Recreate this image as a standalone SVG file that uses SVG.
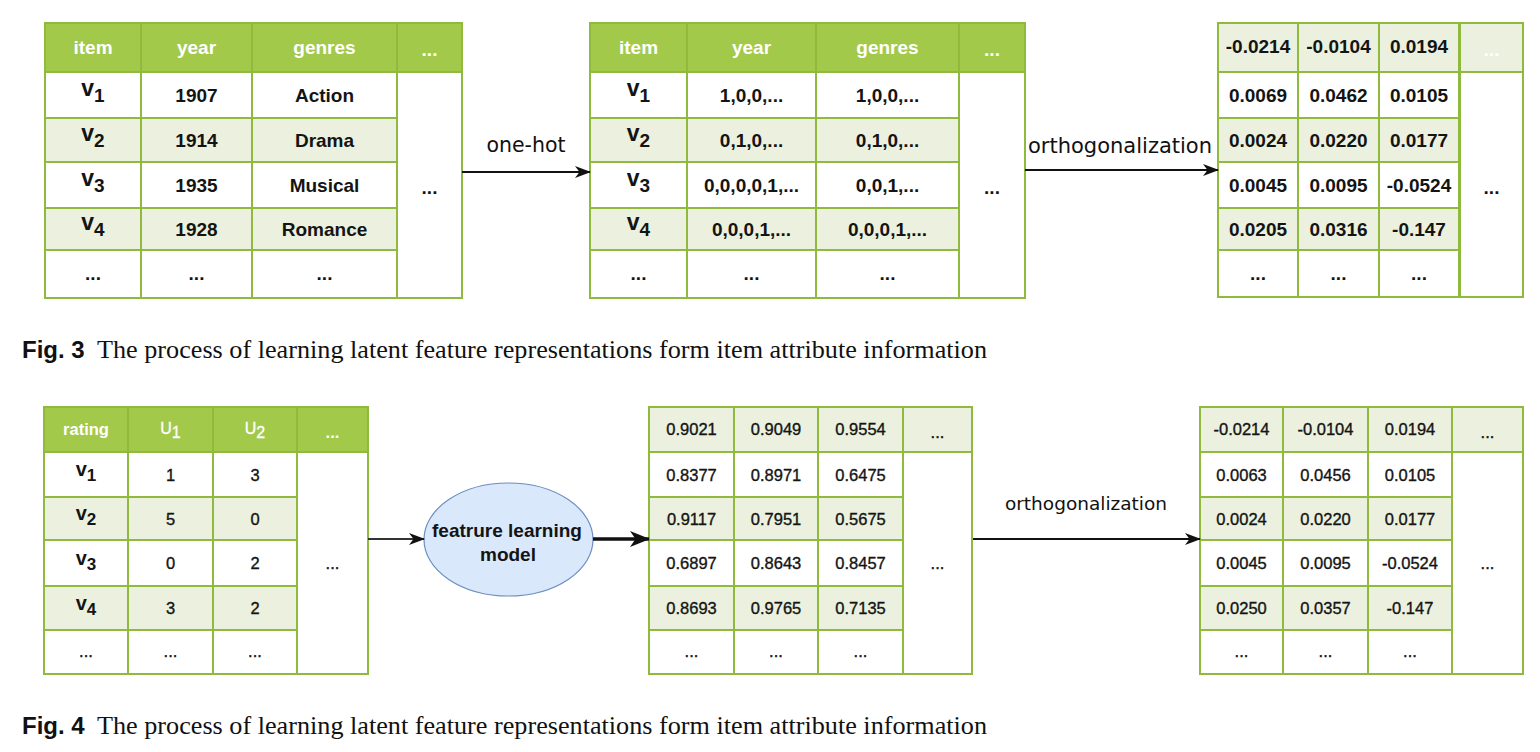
<svg xmlns="http://www.w3.org/2000/svg" width="1540" height="752" viewBox="0 0 1540 752">
  <style>
    .hd { fill: #A3C94B; stroke: #8FBA3E; stroke-width: 2; }
    .lt { fill: #EBF1DE; stroke: #8FBA3E; stroke-width: 2; }
    .wt { fill: #FFFFFF; stroke: #8FBA3E; stroke-width: 2; }
    .th { font-family: "Liberation Sans", Arial, sans-serif; font-weight: bold; font-size: 19px; fill: #FFFFFF; text-anchor: middle; }
    .tb { font-family: "Liberation Sans", Arial, sans-serif; font-weight: bold; font-size: 19px; fill: #141414; text-anchor: middle; }
    .bh { font-family: "Liberation Sans", Arial, sans-serif; font-weight: bold; font-size: 16.5px; fill: #FFFFFF; text-anchor: middle; }
    .bu { font-family: "Liberation Sans", Arial, sans-serif; font-size: 16px; fill: #FFFFFF; stroke: #FFFFFF; stroke-width: 0.3; text-anchor: middle; }
    .bb { font-family: "Liberation Sans", Arial, sans-serif; font-size: 16.5px; fill: #141414; stroke: #141414; stroke-width: 0.35; text-anchor: middle; }
    .bv { font-family: "Liberation Sans", Arial, sans-serif; font-weight: bold; font-size: 17px; fill: #141414; text-anchor: middle; }
    .big { font-size: 23px; }
    .bigb { font-size: 20px; }
    .lbl { font-family: "DejaVu Sans", sans-serif; fill: #111111; text-anchor: middle; }
    .edge { fill: none; stroke: #111111; stroke-width: 2; }
    .edge-soft { fill: none; stroke: #333333; stroke-width: 2; }
    .edge-thick { fill: none; stroke: #111111; stroke-width: 3.5; }
    .cap-fig { font-family: "Liberation Sans", Arial, sans-serif; font-weight: bold; font-size: 24px; fill: #111111; }
    .cap-txt { font-family: "Liberation Serif", "Times New Roman", serif; font-size: 26px; fill: #111111; }
  </style>
  <defs>
    <marker id="arrow" viewBox="0 0 16 12" markerWidth="16" markerHeight="12" refX="15" refY="6" orient="auto" markerUnits="userSpaceOnUse">
      <path d="M0,0 L16,6 L0,12 L4.5,6 z" fill="#111111"/>
    </marker>
    <marker id="arrow-big" viewBox="0 0 20 16" markerWidth="20" markerHeight="16" refX="19" refY="8" orient="auto" markerUnits="userSpaceOnUse">
      <path d="M0,0 L20,8 L0,16 L5.5,8 z" fill="#111111"/>
    </marker>
  </defs>

  <rect width="1540" height="752" fill="#FFFFFF"/>

  <!-- Item attribute table -->
  <g id="t-attr">
    <rect class="hd" x="45" y="23" width="96" height="49"/>
    <rect class="hd" x="141" y="23" width="111" height="49"/>
    <rect class="hd" x="252" y="23" width="145" height="49"/>
    <rect class="hd" x="397" y="23" width="65" height="49"/>
    <rect class="wt" x="45" y="72" width="96" height="46"/><rect class="wt" x="141" y="72" width="111" height="46"/><rect class="wt" x="252" y="72" width="145" height="46"/>
    <rect class="lt" x="45" y="118" width="96" height="44"/><rect class="lt" x="141" y="118" width="111" height="44"/><rect class="lt" x="252" y="118" width="145" height="44"/>
    <rect class="wt" x="45" y="162" width="96" height="46"/><rect class="wt" x="141" y="162" width="111" height="46"/><rect class="wt" x="252" y="162" width="145" height="46"/>
    <rect class="lt" x="45" y="208" width="96" height="42"/><rect class="lt" x="141" y="208" width="111" height="42"/><rect class="lt" x="252" y="208" width="145" height="42"/>
    <rect class="wt" x="45" y="250" width="96" height="48"/><rect class="wt" x="141" y="250" width="111" height="48"/><rect class="wt" x="252" y="250" width="145" height="48"/>
    <rect class="wt" x="397" y="72" width="65" height="226"/>
    <text class="th" x="93" y="54">item</text>
    <text class="th" x="196.5" y="54">year</text>
    <text class="th" x="324.5" y="54">genres</text>
    <text class="th" x="429.5" y="56">...</text>
    <text class="tb" x="93" y="96"><tspan class="big">v</tspan><tspan dy="6">1</tspan></text>
    <text class="tb" x="93" y="141"><tspan class="big">v</tspan><tspan dy="6">2</tspan></text>
    <text class="tb" x="93" y="186"><tspan class="big">v</tspan><tspan dy="6">3</tspan></text>
    <text class="tb" x="93" y="230"><tspan class="big">v</tspan><tspan dy="6">4</tspan></text>
    <text class="tb" x="93" y="280">...</text>
    <text class="tb" x="196.5" y="102">1907</text>
    <text class="tb" x="196.5" y="147">1914</text>
    <text class="tb" x="196.5" y="192">1935</text>
    <text class="tb" x="196.5" y="236">1928</text>
    <text class="tb" x="196.5" y="280">...</text>
    <text class="tb" x="324.5" y="102">Action</text>
    <text class="tb" x="324.5" y="147">Drama</text>
    <text class="tb" x="324.5" y="192">Musical</text>
    <text class="tb" x="324.5" y="236">Romance</text>
    <text class="tb" x="324.5" y="280">...</text>
    <text class="tb" x="429.5" y="194">...</text>
  </g>

  <!-- One-hot encoded table -->
  <g id="t-onehot">
    <rect class="hd" x="590" y="23" width="97" height="49"/>
    <rect class="hd" x="687" y="23" width="129" height="49"/>
    <rect class="hd" x="816" y="23" width="143" height="49"/>
    <rect class="hd" x="959" y="23" width="66" height="49"/>
    <rect class="wt" x="590" y="72" width="97" height="46"/><rect class="wt" x="687" y="72" width="129" height="46"/><rect class="wt" x="816" y="72" width="143" height="46"/>
    <rect class="lt" x="590" y="118" width="97" height="44"/><rect class="lt" x="687" y="118" width="129" height="44"/><rect class="lt" x="816" y="118" width="143" height="44"/>
    <rect class="wt" x="590" y="162" width="97" height="46"/><rect class="wt" x="687" y="162" width="129" height="46"/><rect class="wt" x="816" y="162" width="143" height="46"/>
    <rect class="lt" x="590" y="208" width="97" height="42"/><rect class="lt" x="687" y="208" width="129" height="42"/><rect class="lt" x="816" y="208" width="143" height="42"/>
    <rect class="wt" x="590" y="250" width="97" height="48"/><rect class="wt" x="687" y="250" width="129" height="48"/><rect class="wt" x="816" y="250" width="143" height="48"/>
    <rect class="wt" x="959" y="72" width="66" height="226"/>
    <text class="th" x="638.5" y="54">item</text>
    <text class="th" x="751.5" y="54">year</text>
    <text class="th" x="887.5" y="54">genres</text>
    <text class="th" x="992" y="56">...</text>
    <text class="tb" x="638.5" y="96"><tspan class="big">v</tspan><tspan dy="6">1</tspan></text>
    <text class="tb" x="638.5" y="141"><tspan class="big">v</tspan><tspan dy="6">2</tspan></text>
    <text class="tb" x="638.5" y="186"><tspan class="big">v</tspan><tspan dy="6">3</tspan></text>
    <text class="tb" x="638.5" y="230"><tspan class="big">v</tspan><tspan dy="6">4</tspan></text>
    <text class="tb" x="638.5" y="280">...</text>
    <text class="tb" x="751.5" y="102">1,0,0,...</text>
    <text class="tb" x="751.5" y="147">0,1,0,...</text>
    <text class="tb" x="751.5" y="192">0,0,0,0,1,...</text>
    <text class="tb" x="751.5" y="236">0,0,0,1,...</text>
    <text class="tb" x="751.5" y="280">...</text>
    <text class="tb" x="887.5" y="102">1,0,0,...</text>
    <text class="tb" x="887.5" y="147">0,1,0,...</text>
    <text class="tb" x="887.5" y="192">0,0,1,...</text>
    <text class="tb" x="887.5" y="236">0,0,0,1,...</text>
    <text class="tb" x="887.5" y="280">...</text>
    <text class="tb" x="992" y="194">...</text>
  </g>

  <!-- Orthogonalized attribute features -->
  <g id="t-ortho-attr">
    <rect class="lt" x="1218" y="23" width="80" height="49"/>
    <rect class="lt" x="1298" y="23" width="81" height="49"/>
    <rect class="lt" x="1379" y="23" width="80" height="49"/>
    <rect class="lt" x="1460" y="23" width="63" height="49"/>
    <rect class="wt" x="1218" y="72" width="80" height="46"/><rect class="wt" x="1298" y="72" width="81" height="46"/><rect class="wt" x="1379" y="72" width="80" height="46"/>
    <rect class="lt" x="1218" y="118" width="80" height="44"/><rect class="lt" x="1298" y="118" width="81" height="44"/><rect class="lt" x="1379" y="118" width="80" height="44"/>
    <rect class="wt" x="1218" y="162" width="80" height="46"/><rect class="wt" x="1298" y="162" width="81" height="46"/><rect class="wt" x="1379" y="162" width="80" height="46"/>
    <rect class="lt" x="1218" y="208" width="80" height="42"/><rect class="lt" x="1298" y="208" width="81" height="42"/><rect class="lt" x="1379" y="208" width="80" height="42"/>
    <rect class="wt" x="1218" y="250" width="80" height="47"/><rect class="wt" x="1298" y="250" width="81" height="47"/><rect class="wt" x="1379" y="250" width="80" height="47"/>
    <rect class="wt" x="1460" y="72" width="63" height="225"/>
    <text class="tb" x="1258" y="53">-0.0214</text>
    <text class="tb" x="1338.5" y="53">-0.0104</text>
    <text class="tb" x="1419" y="53">0.0194</text>
    <text class="th" x="1491.5" y="56">...</text>
    <text class="tb" x="1258" y="102">0.0069</text>
    <text class="tb" x="1338.5" y="102">0.0462</text>
    <text class="tb" x="1419" y="102">0.0105</text>
    <text class="tb" x="1258" y="147">0.0024</text>
    <text class="tb" x="1338.5" y="147">0.0220</text>
    <text class="tb" x="1419" y="147">0.0177</text>
    <text class="tb" x="1258" y="192">0.0045</text>
    <text class="tb" x="1338.5" y="192">0.0095</text>
    <text class="tb" x="1419" y="192">-0.0524</text>
    <text class="tb" x="1258" y="236">0.0205</text>
    <text class="tb" x="1338.5" y="236">0.0316</text>
    <text class="tb" x="1419" y="236">-0.147</text>
    <text class="tb" x="1258" y="280">...</text>
    <text class="tb" x="1338.5" y="280">...</text>
    <text class="tb" x="1419" y="280">...</text>
    <text class="tb" x="1491.5" y="194">...</text>
  </g>

  <!-- Rating matrix -->
  <g id="t-rating">
    <rect class="hd" x="44" y="407" width="84" height="45"/>
    <rect class="hd" x="128" y="407" width="85" height="45"/>
    <rect class="hd" x="213" y="407" width="84" height="45"/>
    <rect class="hd" x="297" y="407" width="71" height="45"/>
    <rect class="wt" x="44" y="452" width="84" height="45"/><rect class="wt" x="128" y="452" width="85" height="45"/><rect class="wt" x="213" y="452" width="84" height="45"/>
    <rect class="lt" x="44" y="497" width="84" height="43"/><rect class="lt" x="128" y="497" width="85" height="43"/><rect class="lt" x="213" y="497" width="84" height="43"/>
    <rect class="wt" x="44" y="540" width="84" height="46"/><rect class="wt" x="128" y="540" width="85" height="46"/><rect class="wt" x="213" y="540" width="84" height="46"/>
    <rect class="lt" x="44" y="586" width="84" height="44"/><rect class="lt" x="128" y="586" width="85" height="44"/><rect class="lt" x="213" y="586" width="84" height="44"/>
    <rect class="wt" x="44" y="630" width="84" height="44"/><rect class="wt" x="128" y="630" width="85" height="44"/><rect class="wt" x="213" y="630" width="84" height="44"/>
    <rect class="wt" x="297" y="452" width="71" height="222"/>
    <text class="bh" x="86" y="435">rating</text>
    <text class="bu" x="170.5" y="434"><tspan>U</tspan><tspan dy="4">1</tspan></text>
    <text class="bu" x="255" y="434"><tspan>U</tspan><tspan dy="4">2</tspan></text>
    <text class="bh" x="332.5" y="438">...</text>
    <text class="bv" x="86" y="476"><tspan class="bigb">v</tspan><tspan dy="5">1</tspan></text>
    <text class="bv" x="86" y="520"><tspan class="bigb">v</tspan><tspan dy="5">2</tspan></text>
    <text class="bv" x="86" y="565"><tspan class="bigb">v</tspan><tspan dy="5">3</tspan></text>
    <text class="bv" x="86" y="610"><tspan class="bigb">v</tspan><tspan dy="5">4</tspan></text>
    <text class="bb" x="86" y="657">...</text>
    <text class="bb" x="170.5" y="481">1</text>
    <text class="bb" x="170.5" y="525">5</text>
    <text class="bb" x="170.5" y="569">0</text>
    <text class="bb" x="170.5" y="614">3</text>
    <text class="bb" x="170.5" y="657">...</text>
    <text class="bb" x="255" y="481">3</text>
    <text class="bb" x="255" y="525">0</text>
    <text class="bb" x="255" y="569">2</text>
    <text class="bb" x="255" y="614">2</text>
    <text class="bb" x="255" y="657">...</text>
    <text class="bb" x="332.5" y="569">...</text>
  </g>

  <!-- Feature learning model -->
  <g id="model">
    <ellipse cx="508.5" cy="539.5" rx="84.5" ry="56.5" fill="#DAE8FC" stroke="#6C8EBF" stroke-width="1.2"/>
    <text class="tb" x="507" y="537">featrure learning</text>
    <text class="tb" x="508" y="561">model</text>
  </g>

  <!-- Learned latent features -->
  <g id="t-latent">
    <rect class="lt" x="649" y="407" width="85" height="45"/>
    <rect class="lt" x="734" y="407" width="84" height="45"/>
    <rect class="lt" x="818" y="407" width="85" height="45"/>
    <rect class="lt" x="903" y="407" width="69" height="45"/>
    <rect class="wt" x="649" y="452" width="85" height="45"/><rect class="wt" x="734" y="452" width="84" height="45"/><rect class="wt" x="818" y="452" width="85" height="45"/>
    <rect class="lt" x="649" y="497" width="85" height="43"/><rect class="lt" x="734" y="497" width="84" height="43"/><rect class="lt" x="818" y="497" width="85" height="43"/>
    <rect class="wt" x="649" y="540" width="85" height="46"/><rect class="wt" x="734" y="540" width="84" height="46"/><rect class="wt" x="818" y="540" width="85" height="46"/>
    <rect class="lt" x="649" y="586" width="85" height="44"/><rect class="lt" x="734" y="586" width="84" height="44"/><rect class="lt" x="818" y="586" width="85" height="44"/>
    <rect class="wt" x="649" y="630" width="85" height="44"/><rect class="wt" x="734" y="630" width="84" height="44"/><rect class="wt" x="818" y="630" width="85" height="44"/>
    <rect class="wt" x="903" y="452" width="69" height="222"/>
    <text class="bb" x="691.5" y="435">0.9021</text>
    <text class="bb" x="776" y="435">0.9049</text>
    <text class="bb" x="860.5" y="435">0.9554</text>
    <text class="bb" x="937.5" y="438">...</text>
    <text class="bb" x="691.5" y="481">0.8377</text>
    <text class="bb" x="776" y="481">0.8971</text>
    <text class="bb" x="860.5" y="481">0.6475</text>
    <text class="bb" x="691.5" y="525">0.9117</text>
    <text class="bb" x="776" y="525">0.7951</text>
    <text class="bb" x="860.5" y="525">0.5675</text>
    <text class="bb" x="691.5" y="569">0.6897</text>
    <text class="bb" x="776" y="569">0.8643</text>
    <text class="bb" x="860.5" y="569">0.8457</text>
    <text class="bb" x="691.5" y="614">0.8693</text>
    <text class="bb" x="776" y="614">0.9765</text>
    <text class="bb" x="860.5" y="614">0.7135</text>
    <text class="bb" x="691.5" y="657">...</text>
    <text class="bb" x="776" y="657">...</text>
    <text class="bb" x="860.5" y="657">...</text>
    <text class="bb" x="937.5" y="569">...</text>
  </g>

  <!-- Orthogonalized latent features -->
  <g id="t-ortho-latent">
    <rect class="lt" x="1200" y="407" width="83" height="45"/>
    <rect class="lt" x="1283" y="407" width="85" height="45"/>
    <rect class="lt" x="1368" y="407" width="84" height="45"/>
    <rect class="lt" x="1452" y="407" width="71" height="45"/>
    <rect class="wt" x="1200" y="452" width="83" height="45"/><rect class="wt" x="1283" y="452" width="85" height="45"/><rect class="wt" x="1368" y="452" width="84" height="45"/>
    <rect class="lt" x="1200" y="497" width="83" height="43"/><rect class="lt" x="1283" y="497" width="85" height="43"/><rect class="lt" x="1368" y="497" width="84" height="43"/>
    <rect class="wt" x="1200" y="540" width="83" height="46"/><rect class="wt" x="1283" y="540" width="85" height="46"/><rect class="wt" x="1368" y="540" width="84" height="46"/>
    <rect class="lt" x="1200" y="586" width="83" height="44"/><rect class="lt" x="1283" y="586" width="85" height="44"/><rect class="lt" x="1368" y="586" width="84" height="44"/>
    <rect class="wt" x="1200" y="630" width="83" height="44"/><rect class="wt" x="1283" y="630" width="85" height="44"/><rect class="wt" x="1368" y="630" width="84" height="44"/>
    <rect class="wt" x="1452" y="452" width="71" height="222"/>
    <text class="bb" x="1241.5" y="435">-0.0214</text>
    <text class="bb" x="1325.5" y="435">-0.0104</text>
    <text class="bb" x="1410" y="435">0.0194</text>
    <text class="bb" x="1487.5" y="438">...</text>
    <text class="bb" x="1241.5" y="481">0.0063</text>
    <text class="bb" x="1325.5" y="481">0.0456</text>
    <text class="bb" x="1410" y="481">0.0105</text>
    <text class="bb" x="1241.5" y="525">0.0024</text>
    <text class="bb" x="1325.5" y="525">0.0220</text>
    <text class="bb" x="1410" y="525">0.0177</text>
    <text class="bb" x="1241.5" y="569">0.0045</text>
    <text class="bb" x="1325.5" y="569">0.0095</text>
    <text class="bb" x="1410" y="569">-0.0524</text>
    <text class="bb" x="1241.5" y="614">0.0250</text>
    <text class="bb" x="1325.5" y="614">0.0357</text>
    <text class="bb" x="1410" y="614">-0.147</text>
    <text class="bb" x="1241.5" y="657">...</text>
    <text class="bb" x="1325.5" y="657">...</text>
    <text class="bb" x="1410" y="657">...</text>
    <text class="bb" x="1487.5" y="569">...</text>
  </g>

  <!-- Connectors -->
  <g id="connectors">
    <path class="edge" d="M462,172 H590" marker-end="url(#arrow)"/>
    <text class="lbl" x="526" y="152" font-size="20.5">one-hot</text>
    <path class="edge" d="M1025,170 H1218" marker-end="url(#arrow)"/>
    <text class="lbl" x="1120" y="153" font-size="21">orthogonalization</text>
    <path class="edge-soft" d="M368,539 H424" marker-end="url(#arrow)"/>
    <path class="edge-thick" d="M593,539 H649" marker-end="url(#arrow-big)"/>
    <path class="edge" d="M973,539 H1200" marker-end="url(#arrow)"/>
    <text class="lbl" x="1086" y="510" font-size="18.5">orthogonalization</text>
  </g>

  <!-- Captions -->
  <g id="captions">
    <text class="cap-fig" x="22" y="358">Fig. 3</text>
    <text class="cap-txt" x="97" y="358" textLength="890" lengthAdjust="spacingAndGlyphs">The process of learning latent feature representations form item attribute information</text>
    <text class="cap-fig" x="22" y="734">Fig. 4</text>
    <text class="cap-txt" x="97" y="734" textLength="890" lengthAdjust="spacingAndGlyphs">The process of learning latent feature representations form item attribute information</text>
  </g>
</svg>
